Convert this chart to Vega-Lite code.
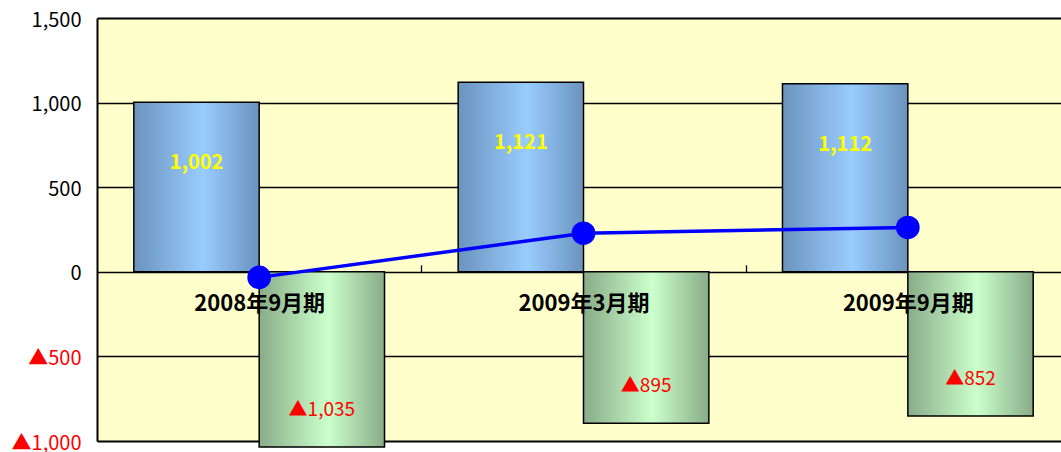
{
  "$schema": "https://vega.github.io/schema/vega-lite/v6.json",
  "width": 964,
  "height": 423,
  "autosize": "none",
  "padding": {"left": 97, "top": 18, "right": 0, "bottom": 11},
  "background": "white",
  "config": {
    "view": {"fill": "#FFFFCC", "stroke": null},
    "font": "Noto Sans CJK JP"
  },
  "datasets": {
    "cashflow": [
      {"period": "2008年9月期", "series": "営業キャッシュ・フロー", "value": 1002},
      {"period": "2008年9月期", "series": "投資キャッシュ・フロー", "value": -1035},
      {"period": "2009年3月期", "series": "営業キャッシュ・フロー", "value": 1121},
      {"period": "2009年3月期", "series": "投資キャッシュ・フロー", "value": -895},
      {"period": "2009年9月期", "series": "営業キャッシュ・フロー", "value": 1112},
      {"period": "2009年9月期", "series": "投資キャッシュ・フロー", "value": -852}
    ],
    "freecf": [
      {"period": "2008年9月期", "value": -33},
      {"period": "2009年3月期", "value": 228},
      {"period": "2009年9月期", "value": 262}
    ]
  },
  "encoding": {
    "x": {
      "field": "period",
      "type": "nominal",
      "sort": null,
      "title": null,
      "scale": {
        "domain": ["2008年9月期", "2009年3月期", "2009年9月期"],
        "range": [0, 973],
        "paddingInner": 0.227,
        "paddingOuter": 0.1135
      },
      "axis": {
        "orient": "bottom",
        "offset": -169.2,
        "domain": false,
        "grid": false,
        "tickOffset": 162.2,
        "labelOffset": -162.2,
        "tickSize": -7,
        "tickColor": "black",
        "tickWidth": 1.3,
        "labelAngle": 0,
        "labelFontSize": 22,
        "labelFontWeight": "bold",
        "labelColor": "black",
        "labelPadding": 29,
        "zindex": 1
      }
    },
    "y": {
      "field": "value",
      "type": "quantitative",
      "title": null,
      "scale": {"domain": [-1000, 1500], "nice": false, "zero": false},
      "axis": {
        "values": [-1000, -500, 0, 500, 1000, 1500],
        "ticks": false,
        "domain": true,
        "domainColor": "black",
        "domainWidth": 2,
        "grid": true,
        "gridColor": "black",
        "gridOpacity": 1,
        "gridWidth": {"condition": {"test": "abs(datum.value) >= 1000 && datum.value != 1000", "value": 2}, "value": 1.3},
        "labelExpr": "datum.value < 0 ? '▲' + format(-datum.value, ',') : format(datum.value, ',')",
        "labelColor": {"condition": {"test": "datum.value < 0", "value": "#FF0000"}, "value": "black"},
        "labelFontSize": 20,
        "labelPadding": 16,
        "labelOffset": 2,
        "labelOverlap": false,
        "zindex": 0
      }
    }
  },
  "layer": [
    {
      "data": {"name": "cashflow"},
      "transform": [{"filter": "datum.series === '営業キャッシュ・フロー'"}],
      "mark": {
        "type": "bar",
        "fill": {
          "gradient": "linear", "x1": 0, "y1": 0, "x2": 1, "y2": 0,
          "stops": [
            {"offset": 0, "color": "#6B93BD"},
            {"offset": 0.55, "color": "#99CCFF"},
            {"offset": 1, "color": "#6B93BD"}
          ]
        },
        "stroke": "black",
        "strokeWidth": 1.5
      },
      "encoding": {
        "xOffset": {"field": "series", "type": "nominal", "scale": {"domain": ["営業キャッシュ・フロー", "投資キャッシュ・フロー"], "paddingInner": 0, "paddingOuter": 0}},
        "y2": {"datum": 0}
      }
    },
    {
      "data": {"name": "cashflow"},
      "transform": [{"filter": "datum.series === '投資キャッシュ・フロー'"}],
      "mark": {
        "type": "bar",
        "fill": {
          "gradient": "linear", "x1": 0, "y1": 0, "x2": 1, "y2": 0,
          "stops": [
            {"offset": 0, "color": "#88AC88"},
            {"offset": 0.55, "color": "#CCFFCC"},
            {"offset": 1, "color": "#88AC88"}
          ]
        },
        "stroke": "black",
        "strokeWidth": 1.5
      },
      "encoding": {
        "xOffset": {"field": "series", "type": "nominal"},
        "y2": {"datum": 0}
      }
    },
    {
      "data": {"name": "freecf"},
      "mark": {"type": "line", "color": "#0000FF", "strokeWidth": 3.5},
      "encoding": {}
    },
    {
      "data": {"name": "freecf"},
      "mark": {"type": "circle", "color": "#0000FF", "opacity": 1, "size": 560},
      "encoding": {}
    },
    {
      "data": {"name": "cashflow"},
      "transform": [{"filter": "datum.series === '営業キャッシュ・フロー'"}],
      "mark": {"type": "text", "color": "#FFFF00", "fontWeight": "bold", "fontSize": 20, "dy": 61, "baseline": "middle", "align": "center"},
      "encoding": {
        "xOffset": {"field": "series", "type": "nominal"},
        "text": {"field": "value", "type": "quantitative", "format": ","}
      }
    },
    {
      "data": {"name": "cashflow"},
      "transform": [
        {"filter": "datum.series === '投資キャッシュ・フロー'"},
        {"calculate": "'▲' + format(-datum.value, ',')", "as": "label"}
      ],
      "mark": {"type": "text", "color": "#FF0000", "fontSize": 19, "dy": -37, "baseline": "middle", "align": "center"},
      "encoding": {
        "xOffset": {"field": "series", "type": "nominal"},
        "text": {"field": "label", "type": "nominal"}
      }
    }
  ]
}
